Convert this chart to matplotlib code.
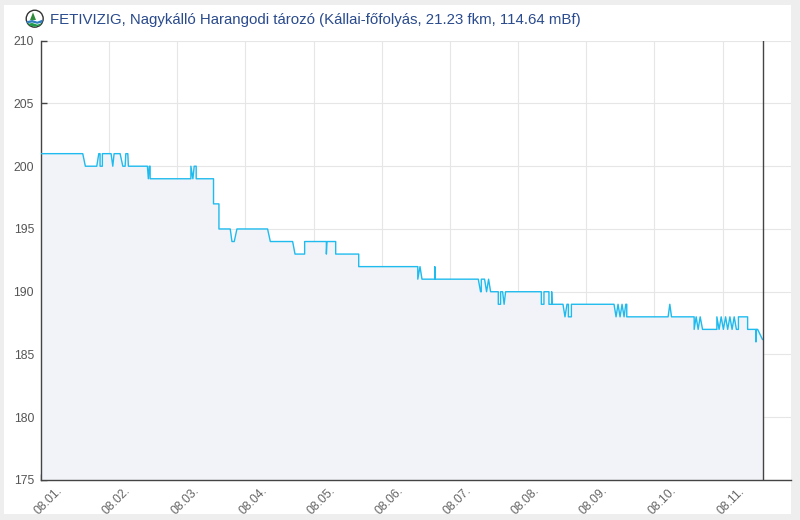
import matplotlib
matplotlib.use("Agg")
import matplotlib.pyplot as plt
from matplotlib.patches import Rectangle, Circle, Polygon
from matplotlib.transforms import ScaledTranslation

# ---- data: hours since 08.01. 00:00 and water level ----
hours = [0.0, 14.70, 15.62, 19.64, 20.35, 20.80, 20.80, 21.61, 21.61, 24.68, 25.28, 25.74,
         27.86, 28.81, 29.62, 29.87, 30.57, 30.78, 37.48, 37.80, 38.15, 38.43, 38.43,
         52.78, 52.78, 53.49, 53.95, 54.65, 54.65, 60.75, 60.75, 62.66, 62.66,
         66.64, 67.24, 68.05, 69.00, 79.79, 80.75, 88.61, 89.45, 92.84, 92.84,
         100.49, 100.49, 100.70, 103.77, 103.77, 111.88, 111.88,
         132.68, 132.68, 133.46, 134.16, 138.68, 138.68, 138.78,
         153.98, 154.79, 155.04, 155.04, 156.20, 156.91, 157.61, 158.32,
         161.03, 161.03, 161.84, 161.84, 162.55, 163.08, 163.61,
         176.19, 176.19, 177.11, 177.11, 178.87, 178.87, 179.83, 179.83, 179.94,
         183.81, 184.52, 185.22, 185.72, 185.72, 186.77, 186.77,
         201.79, 202.50, 203.20, 203.91, 204.61, 205.32, 205.92, 206.27, 206.27,
         220.83, 221.43, 222.03, 230.00, 230.00, 230.71, 231.41, 232.12, 232.96,
         238.00, 238.00, 238.78, 239.52, 240.30, 241.07, 241.81, 242.59, 243.36,
         244.10, 244.88, 245.59, 245.59, 248.83, 248.83, 251.76, 251.76, 251.93,
         252.36, 254.05]
levels = [201, 201, 200, 200, 201, 201, 200, 200, 201, 201, 200, 201,
          201, 200, 200, 201, 201, 200, 200, 199, 200, 200, 199,
          199, 200, 199, 200, 200, 199, 199, 197, 197, 195,
          195, 194, 194, 195, 195, 194, 194, 193, 193, 194,
          194, 193, 194, 194, 193, 193, 192,
          192, 191, 192, 191, 191, 192, 191,
          191, 190, 190, 191, 191, 190, 191, 190,
          190, 189, 189, 190, 190, 189, 190,
          190, 189, 189, 190, 190, 189, 189, 190, 189,
          189, 188, 189, 189, 188, 188, 189,
          189, 188, 189, 188, 189, 188, 189, 189, 188,
          188, 189, 188, 188, 187, 188, 187, 188, 187,
          187, 188, 187, 188, 187, 188, 187, 188, 187,
          188, 187, 187, 188, 188, 187, 187, 186, 187,
          187, 186.2]
now_hour = 254.1
tick_hours = [0, 24, 48, 72, 96, 120, 144, 168, 192, 216, 240]
tick_labels = ["08.01.", "08.02.", "08.03.", "08.04.", "08.05.", "08.06.",
               "08.07.", "08.08.", "08.09.", "08.10.", "08.11."]
y_ticks = [175, 180, 185, 190, 195, 200, 205, 210]
title = "FETIVIZIG, Nagykálló Harangodi tározó (Kállai-főfolyás, 21.23 fkm, 114.64 mBf)"

W, H = 800, 520
fig = plt.figure(figsize=(W / 100, H / 100), dpi=100, facecolor="#eeeeee")
fig.patches.append(Rectangle((4 / W, (H - 514) / H), (791 - 4) / W, (514 - 5) / H,
                             transform=fig.transFigure, facecolor="white",
                             edgecolor="none", zorder=-10))

ax = fig.add_axes([41 / W, (H - 480) / H, (790.7 - 41) / W, (480 - 40.7) / H])
ax.set_zorder(1)
ax.set_facecolor("none")
ax.set_xlim(0, 264)
ax.set_ylim(175, 210)

ax.fill_between(hours, levels, 175, color="#f2f3f8", linewidth=0, zorder=1)
ax.plot(hours, levels, color="#1fbbee", linewidth=1.0, zorder=3)
ax.axvline(now_hour, color="#444444", linewidth=1.0, zorder=4)

ax.set_xticks(tick_hours)
ax.set_xticklabels(tick_labels, rotation=45, ha="right", va="top",
                   fontsize=8.8, color="#666666", family="Liberation Sans")
ax.set_yticks(y_ticks)
ax.set_yticklabels([str(v) for v in y_ticks], fontsize=8.8, color="#555555",
                   family="Liberation Sans")
ax.tick_params(axis="x", direction="in", length=4, width=1, color="#444444", pad=5)
ax.tick_params(axis="y", direction="in", length=4, width=1, color="#444444", pad=5)
for lab in ax.get_xticklabels():
    lab.set_transform(lab.get_transform() + ScaledTranslation(0.24, 0.02, fig.dpi_scale_trans))

ax.grid(True, color="#e6e6e6", linewidth=0.8, zorder=0)
ax.set_axisbelow(True)
for s in ("top", "right"):
    ax.spines[s].set_visible(False)
for s in ("left", "bottom"):
    ax.spines[s].set_color("#444444")
    ax.spines[s].set_linewidth(1.0)

# logo
logo = fig.add_axes([(34.7 - 9.5) / W, (H - 18.7 - 9.5) / H, 19 / W, 19 / H])
logo.set_zorder(2)
logo.set_xlim(-1.12, 1.12)
logo.set_ylim(-1.12, 1.12)
logo.axis("off")
logo.add_patch(Circle((0, 0), 1.0, facecolor="white", edgecolor="#333333", linewidth=1.0))
logo.add_patch(Polygon([[-0.55, -0.15], [-0.2, 0.75], [0.15, -0.15]], facecolor="#2e8b3a", edgecolor="none"))
logo.add_patch(Polygon([[-0.25, -0.3], [-0.15, -0.3], [-0.15, -0.1], [-0.25, -0.1]], facecolor="#2e8b3a", edgecolor="none"))
logo.add_patch(Polygon([[-0.95, -0.3], [-0.3, -0.15], [0.3, -0.35], [0.95, -0.1], [0.9, -0.45], [0.3, -0.6], [-0.3, -0.45], [-0.9, -0.55]],
                       facecolor="#2f7fc0", edgecolor="none"))
logo.add_patch(Polygon([[-0.8, -0.6], [-0.3, -0.5], [0.3, -0.7], [0.8, -0.55], [0.6, -0.8], [0.0, -0.95], [-0.6, -0.8]],
                       facecolor="#1f9a4a", edgecolor="none"))

fig.text(50 / W, (H - 20) / H, title, fontsize=10.85, color="#2a4b8d",
         family="Liberation Sans", ha="left", va="center")

fig.savefig("out.png", dpi=100, facecolor=fig.get_facecolor())
